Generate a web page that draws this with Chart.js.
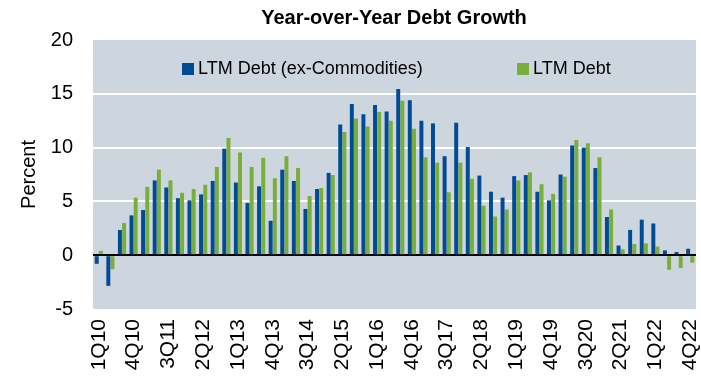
<!DOCTYPE html>
<html>
<head>
<meta charset="utf-8">
<script src="https://cdn.jsdelivr.net/npm/chart.js@4"></script>
<style>
  html, body { margin: 0; padding: 0; background: #fff; }
  #wrap { width: 701px; height: 378px; }
</style>
</head>
<body>
<div id="wrap"><canvas class="js-debtgrowth"></canvas></div>
<script>
const quarters = [];
for (let y = 10; y <= 22; y++) {
  for (let q = 1; q <= 4; q++) quarters.push(q + "Q" + y);
}

const exCommodities = [
  -0.8, -2.85, 2.35, 3.7,
  4.2, 6.95, 6.3, 5.3,
  5.1, 5.65, 6.9, 9.9,
  6.75, 4.85, 6.4, 3.2,
  7.95, 6.9, 4.3, 6.15,
  7.65, 12.15, 14.05, 13.1,
  13.95, 13.35, 15.45, 14.4,
  12.5, 12.25, 9.2, 12.3,
  10.05, 7.4, 5.9, 5.35,
  7.35, 7.45, 5.9, 5.1,
  7.5, 10.2, 10.0, 8.1,
  3.55, 0.9, 2.35, 3.3,
  2.95, 0.45, 0.3, 0.6,
];

const ltmDebt = [
  0.4, -1.3, 3.0, 5.35,
  6.35, 7.95, 6.95, 5.8,
  6.15, 6.55, 8.2, 10.9,
  9.55, 8.2, 9.05, 7.15,
  9.2, 8.1, 5.5, 6.25,
  7.45, 11.45, 12.7, 11.95,
  13.3, 12.5, 14.35, 11.75,
  9.1, 8.6, 5.85, 8.6,
  7.1, 4.6, 3.6, 4.25,
  6.95, 7.7, 6.6, 5.7,
  7.3, 10.7, 10.4, 9.1,
  4.25, 0.55, 1.05, 1.1,
  0.8, -1.35, -1.2, -0.7,
];

const yTicks = [-5, 0, 5, 10, 15, 20];

const BLUE = "#004B96";
const GREEN = "#7AAE3A";
const FONT = "'Liberation Sans', Arial, sans-serif";

// plot background, title and in-plot legend
const decor = {
  id: "decor",
  beforeDraw(chart) {
    const { ctx, chartArea: a } = chart;
    ctx.save();
    ctx.fillStyle = "#CDD6DF";
    ctx.fillRect(a.left, a.top, a.right - a.left, a.bottom - a.top);
    ctx.restore();
  },
  afterDraw(chart) {
    const ctx = chart.ctx;
    ctx.save();
    ctx.fillStyle = "#000";
    ctx.textBaseline = "middle";
    ctx.textAlign = "center";
    ctx.font = "bold 20px " + FONT;
    ctx.fillText("Year-over-Year Debt Growth", 394, 18);

    ctx.textAlign = "left";
    ctx.font = "18px " + FONT;
    const items = [
      { x: 182, ds: chart.data.datasets[0] },
      { x: 517, ds: chart.data.datasets[1] },
    ];
    items.forEach((it) => {
      ctx.fillStyle = it.ds.backgroundColor;
      ctx.fillRect(it.x, 63, 12, 12);
      ctx.fillStyle = "#000";
      ctx.fillText(it.ds.label, it.x + 16, 69);
    });
    ctx.restore();
  },
};

const chartdebt = function () {
  const el = document.querySelector(".js-debtgrowth");

  new Chart(el, {
    type: "bar",
    data: {
      labels: quarters,
      datasets: [
        {
          label: "LTM Debt (ex-Commodities)",
          backgroundColor: BLUE,
          data: exCommodities,
        },
        {
          label: "LTM Debt",
          backgroundColor: GREEN,
          data: ltmDebt,
        },
      ],
    },
    options: {
      responsive: true,
      maintainAspectRatio: false,
      animation: false,
      layout: { padding: { top: 40, right: 5, left: 17, bottom: 0 } },
      datasets: {
        bar: { categoryPercentage: 0.72, barPercentage: 0.95 },
      },
      scales: {
        x: {
          grid: { display: false },
          border: { display: false },
          ticks: {
            autoSkip: false,
            minRotation: 90,
            maxRotation: 90,
            padding: 2,
            color: "#000",
            font: { family: FONT, size: 21 },
            callback: (v, i) => (i % 3 === 0 ? quarters[i] : ""),
          },
          afterFit: (s) => {
            s.height = 69;
            s.paddingLeft = 0;
            s.paddingRight = 0;
          },
        },
        y: {
          min: -5,
          max: 20,
          afterBuildTicks: (s) => { s.ticks = yTicks.map((v) => ({ value: v })); },
          border: { display: false },
          grid: {
            drawTicks: false,
            color: (c) => {
              const v = c.tick.value;
              if (v === 0) return "#000";
              if (v === 20 || v === -5) return "rgba(0,0,0,0)";
              return "#fff";
            },
            lineWidth: 2,
          },
          ticks: {
            color: "#000",
            padding: 20,
            font: { family: FONT, size: 20 },
          },
          title: {
            display: true,
            text: "Percent",
            color: "#000",
            padding: 0,
            font: { family: FONT, size: 20 },
          },
          afterFit: (s) => {
            s.width = 76;
            s.paddingTop = 0;
            s.paddingBottom = 0;
          },
        },
      },
      plugins: {
        legend: { display: false },
        title: { display: false },
        tooltip: { enabled: false },
      },
    },
    plugins: [decor],
  });
};

document.addEventListener("DOMContentLoaded", chartdebt);
</script>
</body>
</html>
